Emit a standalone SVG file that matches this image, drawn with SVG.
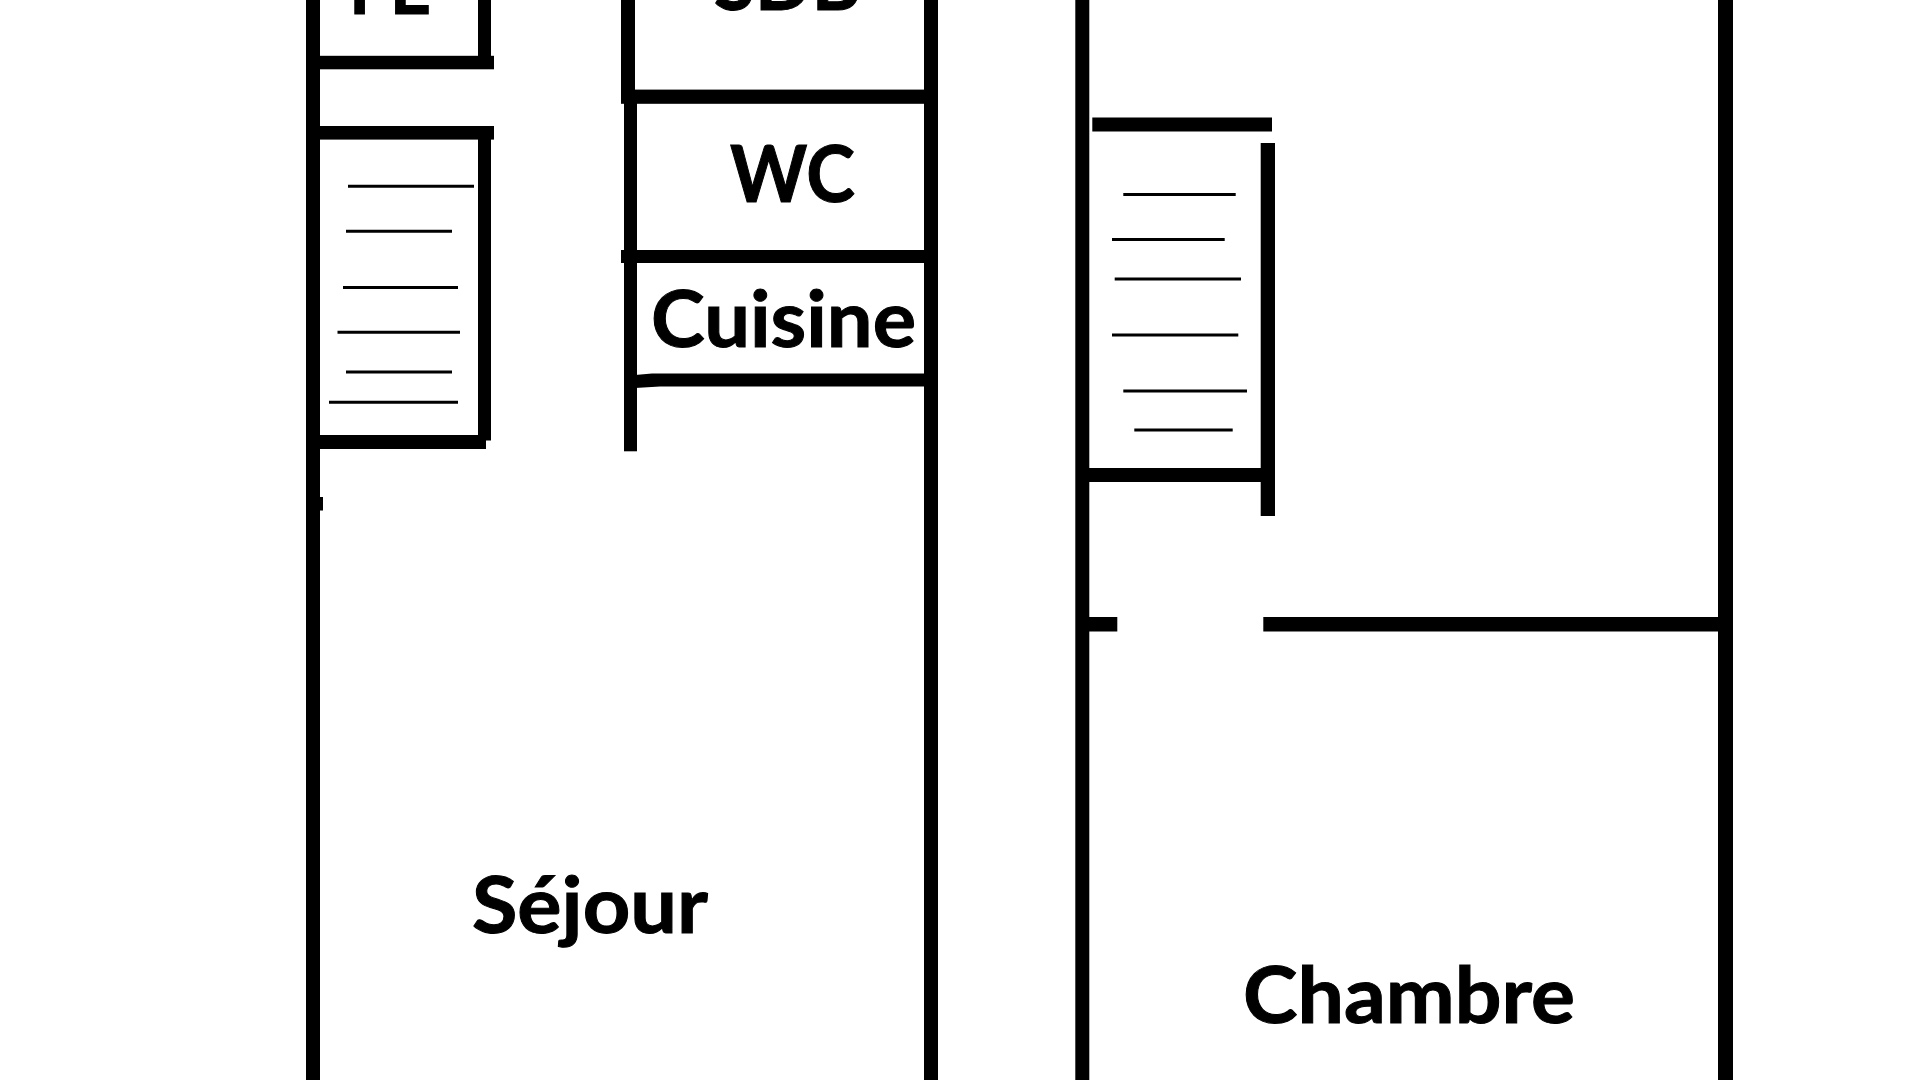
<svg xmlns="http://www.w3.org/2000/svg" width="1920" height="1080" viewBox="0 0 1920 1080">
<style>
.w{fill:#000}
.s{stroke:#000;stroke-width:3;fill:none}
text{font-family:"Lato","Open Sans","Liberation Sans",sans-serif;font-weight:700;fill:#000;stroke:#000;stroke-width:1}
</style>
<rect width="1920" height="1080" fill="#fff"/>
<g id="walls-left">
<rect class="w" x="306" y="0" width="14" height="1080"/>
<rect class="w" x="478" y="0" width="13" height="60"/>
<rect class="w" x="306" y="55.800" width="188" height="13.500"/>
<rect class="w" x="306" y="126" width="188" height="13.600"/>
<rect class="w" x="478" y="135" width="13" height="305.500"/>
<rect class="w" x="306" y="435" width="180" height="14"/>
<rect class="w" x="318" y="497" width="5" height="13.500"/>
</g>
<g id="walls-centre">
<rect class="w" x="621" y="0" width="14" height="100.400"/>
<rect class="w" x="621" y="89.600" width="309" height="14.200"/>
<rect class="w" x="624" y="100" width="13" height="351.300"/>
<rect class="w" x="621" y="250" width="309" height="13"/>
<path class="w" d="M635 375L652 373.600H930V386.400H660L635 388Z"/>
<rect class="w" x="924" y="0" width="14" height="1080"/>
</g>
<g id="walls-right">
<rect class="w" x="1075.300" y="0" width="14" height="1080"/>
<rect class="w" x="1092.300" y="117.500" width="179.700" height="14"/>
<rect class="w" x="1260.700" y="143" width="14.300" height="373"/>
<rect class="w" x="1089" y="468" width="172" height="14"/>
<rect class="w" x="1089" y="617" width="28.300" height="14.500"/>
<rect class="w" x="1263.300" y="617" width="456" height="14.500"/>
<rect class="w" x="1718" y="0" width="15" height="1080"/>
</g>
<g id="stairs-left">
<path class="s" d="M348 186.300H474M346 231.200H452M343 287.400H458M337.500 332.300H460M346 371.900H452M329 402.300H458"/>
</g>
<g id="stairs-right">
<path class="s" d="M1123.300 194.500H1235.700M1112 239.500H1224.700M1114.700 279H1241M1112 335H1238.300M1123.300 391H1247M1134.300 430H1232.700"/>
</g>
<g id="labels">
<text x="349" y="13.500" font-size="78" textLength="82" lengthAdjust="spacingAndGlyphs">FE</text>
<text x="714" y="10" font-size="78" textLength="147" lengthAdjust="spacingAndGlyphs">SDB</text>
<text x="730" y="201.800" font-size="78" textLength="125" lengthAdjust="spacingAndGlyphs">WC</text>
<text x="651" y="347" font-size="78" textLength="265" lengthAdjust="spacingAndGlyphs">Cuisine</text>
<text x="472" y="933" font-size="78" textLength="236" lengthAdjust="spacingAndGlyphs">Séjour</text>
<text x="1243" y="1023" font-size="78" textLength="332" lengthAdjust="spacingAndGlyphs">Chambre</text>
</g>
</svg>
